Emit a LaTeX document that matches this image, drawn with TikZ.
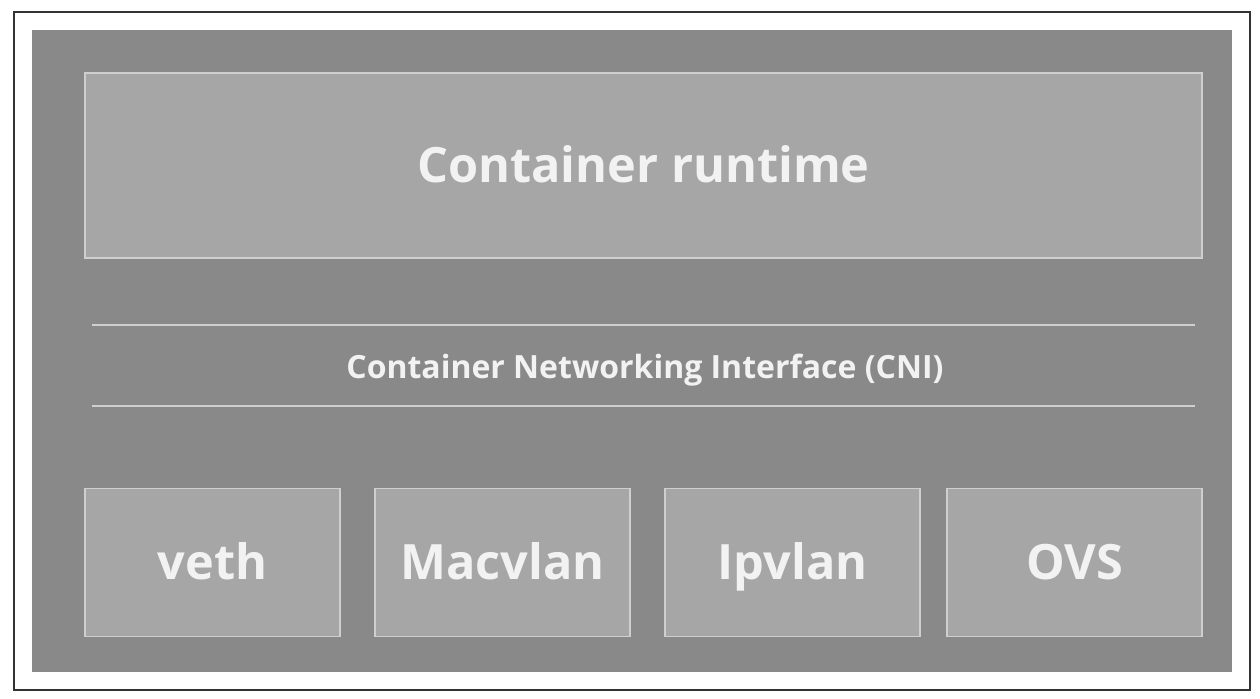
\documentclass[tikz,border=0pt]{standalone}
\usepackage{fontspec}
\setmainfont{Open Sans}
\usepackage{tikz}
\definecolor{panelgray}{HTML}{898989}
\definecolor{boxgray}{HTML}{A6A6A6}
\definecolor{edgegray}{HTML}{CFCFCF}
\definecolor{txtgray}{HTML}{F2F2F2}
\tikzset{
  layerbox/.style  = {draw=edgegray, line width=1.1pt, fill=boxgray,
                      inner sep=0pt, text=txtgray, text height=19.8pt, text depth=0pt,
                      font=\fontsize{27.7}{30}\selectfont\bfseries},
  pluginbox/.style = {layerbox, minimum width=5.1cm, minimum height=2.96cm},
  cniline/.style   = {edgegray, line width=1.3pt}
}
\begin{document}
\begin{tikzpicture}[x=0.02cm,y=-0.02cm]
  \useasboundingbox (0,0) rectangle (1260,698);
  \draw[line width=1.2pt, black!80] (14,12) rectangle (1250,690);
  \fill[panelgray] (32,30) rectangle (1232,672);
  % top layer
  \node[layerbox, minimum width=22.34cm, minimum height=3.7cm]
       (runtime) at (643.5,165.5) {Container runtime};
  % interface band
  \coordinate (cnitopL) at (92,325);  \coordinate (cnitopR) at (1195,325);
  \coordinate (cnibotL) at (92,406);  \coordinate (cnibotR) at (1195,406);
  \draw[cniline] (cnitopL) -- (cnitopR);
  \draw[cniline] (cnibotL) -- (cnibotR);
  \node[text=txtgray, inner sep=0pt, text height=13pt, text depth=0pt,
        font=\fontsize{18.2}{21}\selectfont\bfseries]
       (cni) at (645,367) {Container Networking Interface (CNI)};
  % plugins
  \node[pluginbox] (veth)    at (212.5,562.5)  {veth};
  \node[pluginbox] (macvlan) at (502.5,562.5)  {Macvlan};
  \node[pluginbox] (ipvlan)  at (792.5,562.5)  {Ipvlan};
  \node[pluginbox] (ovs)     at (1074.5,562.5) {OVS};
\end{tikzpicture}
\end{document}
